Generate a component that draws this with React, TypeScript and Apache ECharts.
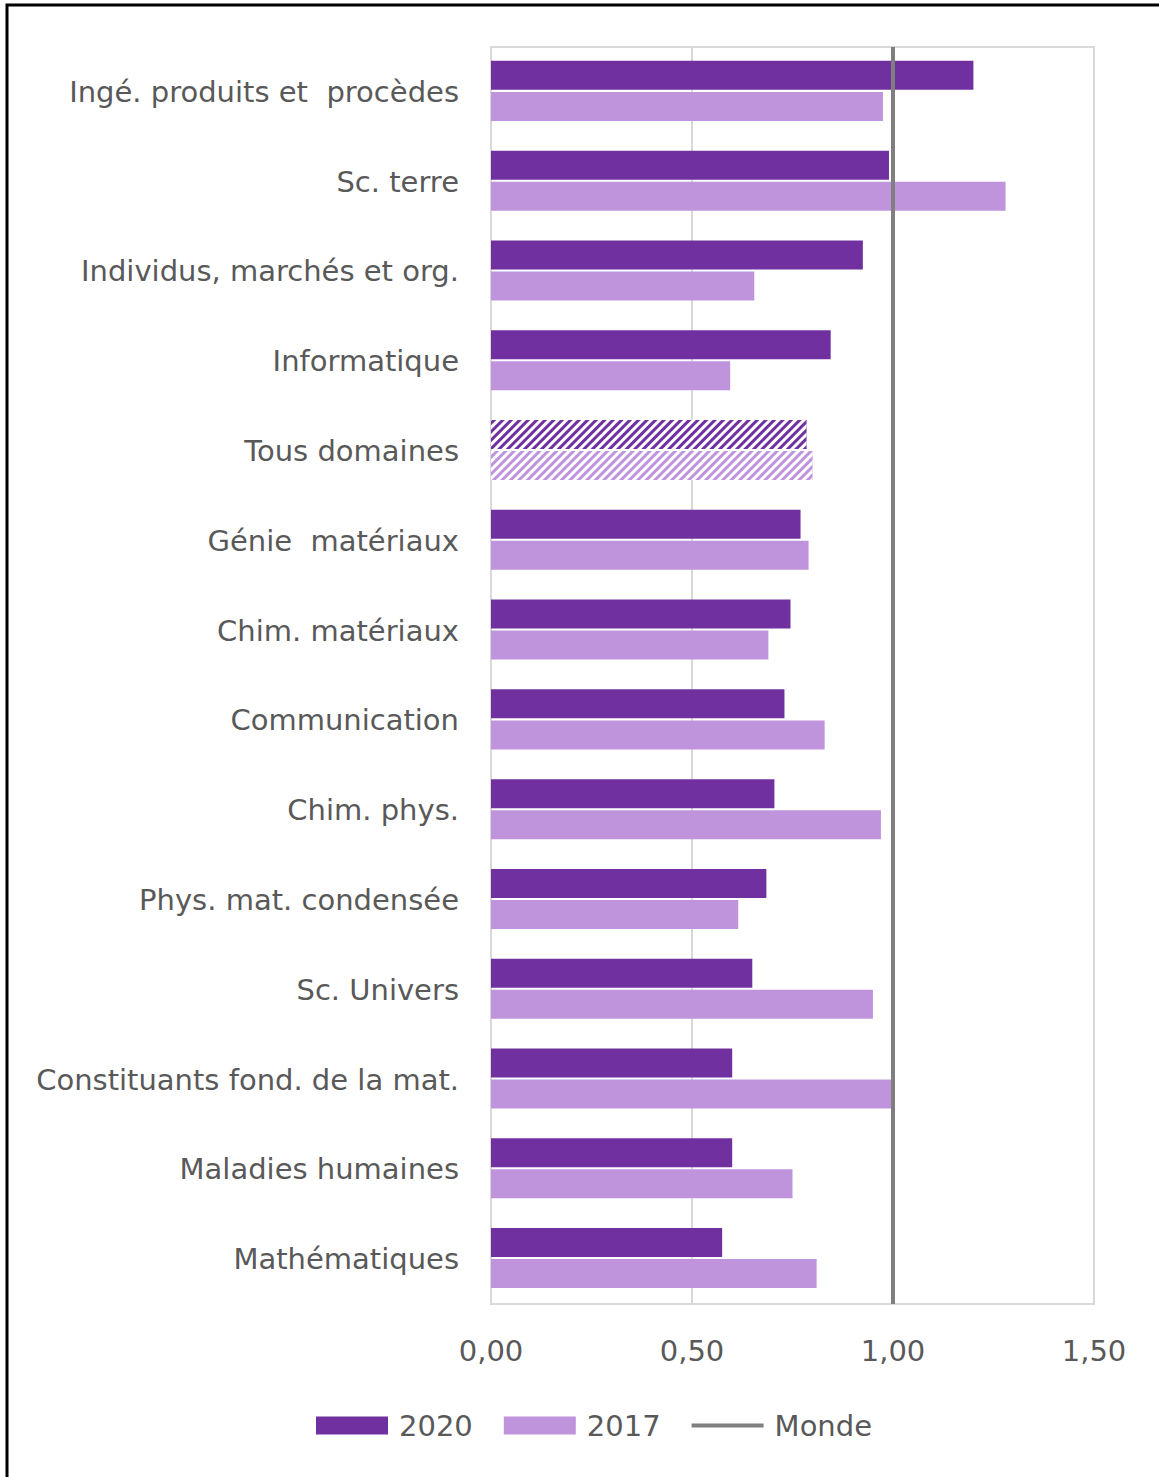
import React, { useEffect, useRef } from "react";
import * as echarts from "echarts";

const categories = [
  "Ingé. produits et  procèdes",
  "Sc. terre",
  "Individus, marchés et org.",
  "Informatique",
  "Tous domaines",
  "Génie  matériaux",
  "Chim. matériaux",
  "Communication",
  "Chim. phys.",
  "Phys. mat. condensée",
  "Sc. Univers",
  "Constituants fond. de la mat.",
  "Maladies humaines",
  "Mathématiques",
];

const values2020 = [1.2, 0.99, 0.925, 0.845, 0.785, 0.77, 0.745, 0.73, 0.705, 0.685, 0.65, 0.6, 0.6, 0.575];
const values2017 = [0.975, 1.28, 0.655, 0.595, 0.8, 0.79, 0.69, 0.83, 0.97, 0.615, 0.95, 0.995, 0.75, 0.81];
const mondeValue = 1;
const hatchedCategory = "Tous domaines";

const C2020 = "#7030a0";
const C2017 = "#bf94dd";
const GREY = "#7f7f7f";
const TEXT = "#595959";
const FONT = "DejaVu Sans";
const FS = 29;

const hatch = {
  symbol: "rect",
  symbolSize: 1,
  color: "#ffffff",
  dashArrayX: [1, 0],
  dashArrayY: [3, 3],
  rotation: -Math.PI / 4,
};

function buildData(values: number[]) {
  return values.map((v, i) =>
    categories[i] === hatchedCategory ? { value: v, itemStyle: { decal: hatch } } : v
  );
}

export default function App() {
  const ref = useRef<HTMLDivElement>(null);
  useEffect(() => {
    if (!ref.current) return;
    const chart = echarts.init(ref.current, null, { renderer: "svg" });
    chart.setOption({
      animation: false,
      backgroundColor: "#ffffff",
      textStyle: { fontFamily: FONT },
      graphic: [
        {
          type: "rect",
          shape: { x: 7, y: 5, width: 1300, height: 1600 },
          style: { fill: "none", stroke: "#000", lineWidth: 3 },
          silent: true,
          z: 100,
        },
      ],
      grid: {
        left: 491,
        right: 65,
        top: 47,
        bottom: 173,
        show: true,
        borderColor: "#d9d9d9",
        borderWidth: 2,
      },
      legend: {
        left: 316,
        top: 1411,
        padding: 0,
        itemWidth: 72,
        itemHeight: 18,
        itemGap: 31,
        textStyle: { fontFamily: FONT, fontSize: FS, color: TEXT, padding: [0, 0, 0, 6] },
        data: [
          { name: "2020", icon: "rect" },
          { name: "2017", icon: "rect" },
          {
            name: "Monde",
            icon: "path://M0,0 L72,0 L72,4 L0,4 Z",
            itemStyle: { color: GREY, borderWidth: 0 },
          },
        ],
      },
      xAxis: {
        type: "value",
        min: 0,
        max: 1.5,
        interval: 0.5,
        axisLine: { show: false },
        axisTick: { show: false },
        splitLine: { show: true, lineStyle: { color: "#d9d9d9", width: 2 } },
        axisLabel: {
          margin: 32,
          fontFamily: FONT,
          fontSize: FS,
          color: TEXT,
          formatter: (v: number) => v.toFixed(2).replace(".", ","),
        },
      },
      yAxis: {
        type: "category",
        data: categories,
        inverse: true,
        axisLine: { show: true, lineStyle: { color: "#d9d9d9", width: 2 } },
        axisTick: { show: false },
        axisLabel: { margin: 32, fontFamily: FONT, fontSize: FS, color: TEXT },
      },
      series: [
        {
          name: "2020",
          type: "bar",
          data: buildData(values2020),
          barWidth: 29,
          barGap: "7%",
          itemStyle: { color: C2020 },
        },
        {
          name: "2017",
          type: "bar",
          data: buildData(values2017),
          barWidth: 29,
          barGap: "7%",
          itemStyle: { color: C2017 },
        },
        {
          name: "Monde",
          type: "bar",
          data: [],
          itemStyle: { color: GREY },
          z: 5,
          markLine: {
            silent: true,
            symbol: ["none", "none"],
            label: { show: false },
            lineStyle: { color: GREY, width: 4, type: "solid" },
            data: [{ xAxis: mondeValue }],
          },
        },
      ],
    });
    return () => chart.dispose();
  }, []);
  return (
    <div
      ref={ref}
      style={{ position: "absolute", left: 0, top: 0, width: 1159, height: 1477 }}
    />
  );
}
